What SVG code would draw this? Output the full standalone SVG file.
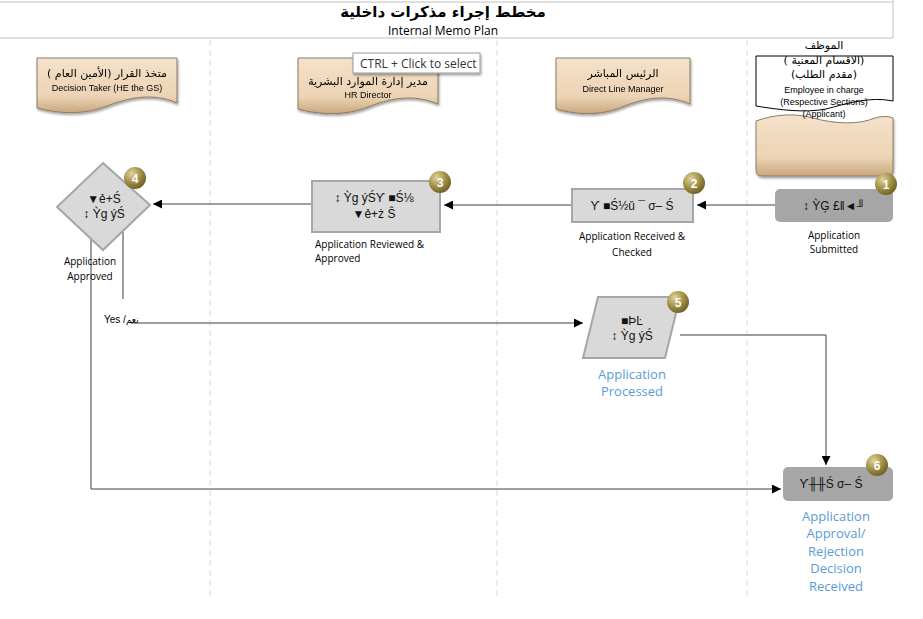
<svg xmlns="http://www.w3.org/2000/svg" width="923" height="619" viewBox="0 0 923 619">
<defs>
<style>
.lane{stroke:#d9d9d9;stroke-width:1;stroke-dasharray:6,4;fill:none}
.hdr{fill:url(#tan);stroke:#8c7a62;stroke-width:1}
.ar{font-family:"DejaVu Sans","Noto Sans",sans-serif;font-size:11px;fill:#000;text-anchor:middle}
.en{font-family:"Liberation Sans",Arial,sans-serif;font-size:9px;fill:#000;text-anchor:middle}
.lbl{font-family:"Open Sans","Liberation Sans",sans-serif;font-size:10px;fill:#000}
.blue{font-family:"Open Sans","Liberation Sans",sans-serif;font-size:13px;fill:#5b9bd5;text-anchor:middle}
.box{fill:#d9d9d9;stroke:#a6a6a6;stroke-width:2}
.dbox{fill:#a6a6a6;stroke:none}
.g{font-family:"Liberation Sans","DejaVu Sans",sans-serif;font-size:12px;fill:#111;text-anchor:middle}
.badge{fill:url(#gold)}
.bn{font-family:"Liberation Sans",Arial,sans-serif;font-size:12px;font-weight:bold;fill:#fff;text-anchor:middle}
.con{fill:none;stroke:#404040;stroke-width:1}
</style>
<linearGradient id="tan" x1="0" y1="0" x2="0" y2="1">
<stop offset="0" stop-color="#f4e2cb"/>
<stop offset="0.7" stop-color="#ecd3b3"/>
<stop offset="1" stop-color="#c9a77f"/>
</linearGradient>
<radialGradient id="gold" cx="0.35" cy="0.3" r="0.75">
<stop offset="0" stop-color="#e0d49a"/>
<stop offset="0.55" stop-color="#a08f45"/>
<stop offset="1" stop-color="#6b5e26"/>
</radialGradient>
<marker id="arr" viewBox="0 0 10 10" refX="10" refY="5" markerWidth="9" markerHeight="9" markerUnits="userSpaceOnUse" orient="auto">
<path d="M0,0 L10,5 L0,10 Z" fill="#000"/>
</marker>
<filter id="sh" x="-10%" y="-10%" width="130%" height="140%">
<feDropShadow dx="1" dy="2" stdDeviation="1.2" flood-color="#000" flood-opacity="0.35"/>
</filter>
</defs>
<rect width="923" height="619" fill="#fff"/>

<g id="frame">
<line x1="0" y1="2" x2="893" y2="2" stroke="#bfbfbf"/>
<line x1="0" y1="38" x2="893" y2="38" stroke="#bfbfbf"/>
<line x1="893" y1="0" x2="893" y2="38" stroke="#bfbfbf"/>
<text x="443" y="17" font-family="DejaVu Sans,Noto Sans,sans-serif" font-size="15" font-weight="bold" text-anchor="middle">مخطط إجراء مذكرات داخلية</text>
<text x="443" y="35" font-family="Open Sans,Liberation Sans,sans-serif" font-size="12" text-anchor="middle">Internal Memo Plan</text>
</g>

<g id="lanes">
<line class="lane" x1="210" y1="40" x2="210" y2="600"/>
<line class="lane" x1="497" y1="40" x2="497" y2="600"/>
<line class="lane" x1="747" y1="40" x2="747" y2="600"/>
</g>

<g id="header-decision" filter="url(#sh)">
<path class="hdr" d="M37,58 H177 V103 C152,92 128,98 107,106 C84,115 60,114 37,108 Z"/>
<text class="ar" x="107" y="77">متخذ القرار  (الأمين العام )</text>
<text class="en" x="107" y="91">Decision Taker (HE the GS)</text>
</g>

<g id="header-hr" filter="url(#sh)">
<path class="hdr" d="M298,58 H438 V104 C412,93 388,99 368,107 C345,116 320,115 298,109 Z"/>
<text class="ar" x="368" y="85" font-size="10">مدير إدارة الموارد البشرية</text>
<text class="en" x="368" y="98" font-size="10">HR Director</text>
</g>

<g id="header-manager" filter="url(#sh)">
<path class="hdr" d="M556,58 H690 V104 C665,93 642,99 622,107 C600,116 578,115 556,109 Z"/>
<text class="ar" x="623" y="77">الرئيس المباشر</text>
<text class="en" x="623" y="92">Direct Line Manager</text>
</g>

<g id="header-applicant">
<text class="ar" x="824" y="49" font-size="10">الموظف</text>
<path d="M756,56 H893 V101 C870,96 845,104 826,109 C805,113 780,110 756,106 Z" fill="#fff" stroke="#000" stroke-width="1"/>
<path class="hdr" filter="url(#sh)" d="M756,121 C775,114 795,113 813,118 C835,124 858,125 875,118 C882,116 888,116 893,118 V170 Q893,176 887,176 H762 Q756,176 756,170 Z"/>
<text class="ar" x="824" y="64" font-size="10">( الاقسام المعنية)</text>
<text class="ar" x="824" y="78" font-size="10">(مقدم الطلب)</text>
<text class="en" x="824" y="93">Employee in charge</text>
<text class="en" x="824" y="105">(Respective Sections)</text>
<text class="en" x="824" y="117">(Applicant)</text>
</g>

<g id="connectors">
<path class="con" d="M775,205 H697" marker-end="url(#arr)"/>
<path class="con" d="M571,205 H444" marker-end="url(#arr)"/>
<path class="con" d="M311,204 H153" marker-end="url(#arr)"/>
<path class="con" d="M123,232 V323 H583" marker-end="url(#arr)"/>
<path class="con" d="M91,232 V489 H781" marker-end="url(#arr)"/>
<path class="con" d="M680,335 H826 V465" marker-end="url(#arr)"/>
<rect x="101" y="299" width="30" height="31" fill="#fff"/>
<text x="104" y="323" font-family="Liberation Sans,DejaVu Sans,sans-serif" font-size="10">Yes /<tspan font-size="9">نعم</tspan></text>
</g>

<g id="node1">
<rect class="dbox" x="775" y="189" width="118" height="33" rx="5"/>
<text class="g" x="834" y="210">↕ ỲĢ £‖◄╜</text>
<text class="lbl" x="834" y="239" text-anchor="middle" font-size="11">Application</text>
<text class="lbl" x="834" y="253" text-anchor="middle" font-size="11">Submitted</text>
<circle class="badge" cx="886" cy="184" r="11"/>
<text class="bn" x="886" y="189">1</text>
</g>

<g id="node2">
<rect class="box" x="572" y="189" width="121" height="33"/>
<text class="g" x="632" y="210">ϒ ■Ś½ǔ ¯ σ– Ś</text>
<text class="lbl" x="632" y="240" text-anchor="middle">Application Received &amp;</text>
<text class="lbl" x="632" y="256" text-anchor="middle">Checked</text>
<circle class="badge" cx="694" cy="183" r="11"/>
<text class="bn" x="694" y="188">2</text>
</g>

<g id="node3">
<rect class="box" x="312" y="181" width="128" height="51"/>
<text class="g" x="374" y="202">↕ Ỳg ýŚϒ ■Ś⅛</text>
<text class="g" x="374" y="218">▼ẻ+ż Ŝ</text>
<text class="lbl" x="315" y="248">Application Reviewed &amp;</text>
<text class="lbl" x="315" y="262">Approved</text>
<circle class="badge" cx="440" cy="182" r="11"/>
<text class="bn" x="440" y="187">3</text>
</g>

<g id="node4">
<path class="box" d="M103,163 L150,205 L103,250 L57,207 Z"/>
<text class="g" x="104" y="203">▼ẻ+Ś</text>
<text class="g" x="104" y="218">↕ Ỳg ýŚ</text>
<text class="lbl" x="90" y="265" text-anchor="middle" font-size="11">Application</text>
<text class="lbl" x="90" y="280" text-anchor="middle" font-size="11">Approved</text>
<circle class="badge" cx="135" cy="178" r="11"/>
<text class="bn" x="135" y="183">4</text>
</g>

<g id="node5">
<path class="box" d="M598,297 H680 L665,358 H583 Z"/>
<text class="g" x="632" y="325">■ÞĿ</text>
<text class="g" x="632" y="340">↕ Ỳg ýŚ</text>
<text class="blue" x="632" y="379">Application</text>
<text class="blue" x="632" y="396">Processed</text>
<circle class="badge" cx="678" cy="302" r="11"/>
<text class="bn" x="678" y="307">5</text>
</g>

<g id="node6">
<rect class="dbox" x="783" y="467" width="110" height="34" rx="5"/>
<text class="g" x="831" y="488">ϒ╫╫Ś σ– Ś</text>
<circle class="badge" cx="877" cy="465" r="11"/>
<text class="bn" x="877" y="470">6</text>
<text class="blue" x="836" y="521">Application</text>
<text class="blue" x="836" y="538">Approval/</text>
<text class="blue" x="836" y="556">Rejection</text>
<text class="blue" x="836" y="573">Decision</text>
<text class="blue" x="836" y="591">Received</text>
</g>

<g id="tooltip">
<rect x="353" y="53" width="127" height="20" fill="#fff" stroke="#999" filter="url(#sh)"/>
<text x="360" y="68" font-family="Open Sans,Liberation Sans,sans-serif" font-size="12" fill="#333">CTRL + Click to select</text>
</g>
</svg>
